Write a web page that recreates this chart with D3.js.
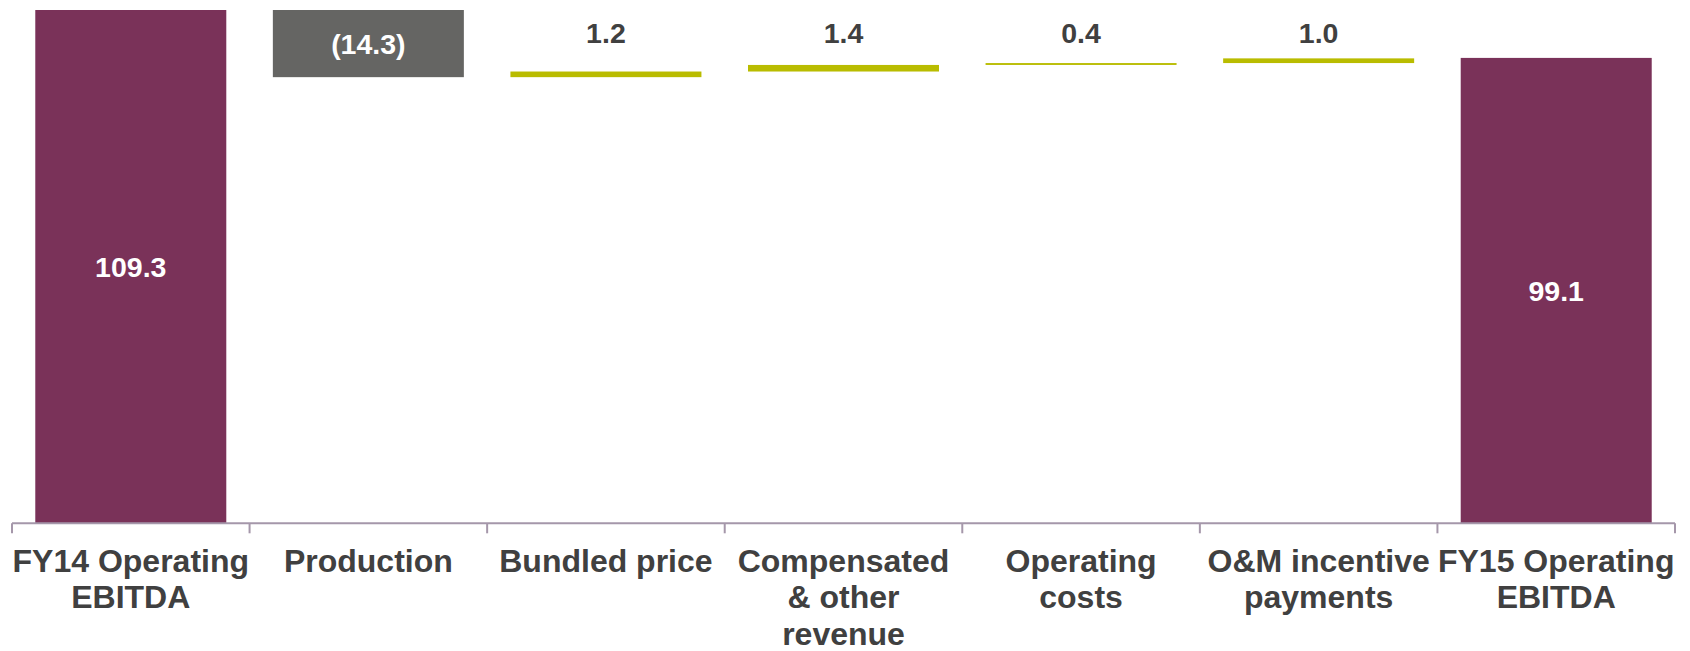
<!DOCTYPE html>
<html>
<head>
<meta charset="utf-8">
<script src="https://cdn.jsdelivr.net/npm/d3@7/dist/d3.min.js"></script>
<style>
  html, body { margin: 0; padding: 0; background: #ffffff; }
  svg { display: block; }
  text { font-family: "Liberation Sans", Arial, sans-serif; font-weight: bold; }
</style>
</head>
<body>
<svg id="chart" width="1690" height="651"></svg>
<script>
// ---- data ----
const categories = [
  ["FY14 Operating", "EBITDA"],
  ["Production"],
  ["Bundled price"],
  ["Compensated", "& other", "revenue"],
  ["Operating", "costs"],
  ["O&M incentive", "payments"],
  ["FY15 Operating", "EBITDA"]
];
const kinds = ["total", "delta", "delta", "delta", "delta", "delta", "total"];
const values = [109.3, -14.3, 1.2, 1.4, 0.4, 1.0, 99.1];
const valueLabels = ["109.3", "(14.3)", "1.2", "1.4", "0.4", "1.0", "99.1"];

// ---- layout ----
const svg = d3.select("#chart");
const axisY = 523.3, topY = 10, left = 12, right = 1675;

// build waterfall segments
let running = 0;
const segs = values.map((v, i) => {
  let y0, y1;
  if (kinds[i] === "total") { y0 = 0; y1 = v; running = v; }
  else { y0 = running; y1 = running + v; running = y1; }
  return { i, v, y0, y1, kind: kinds[i], neg: v < 0, label: valueLabels[i] };
});

const x = d3.scaleBand()
  .domain(d3.range(categories.length))
  .range([left, right])
  .paddingInner(0.196)
  .paddingOuter(0.098);

const y = d3.scaleLinear()
  .domain([0, d3.max(segs, d => Math.max(d.y0, d.y1))])
  .range([axisY, topY]);

const colorOf = d => d.kind === "total" ? "#7a3259" : (d.neg ? "#656563" : "#b9bc00");

// bars
svg.append("g").selectAll("rect").data(segs).join("rect")
  .attr("x", d => x(d.i))
  .attr("width", x.bandwidth())
  .attr("y", d => y(Math.max(d.y0, d.y1)))
  .attr("height", d => Math.abs(y(d.y0) - y(d.y1)))
  .attr("fill", colorOf);

// axis line + ticks at band boundaries
const step = x.step();
const bounds = d3.range(categories.length + 1).map(k => left + k * step);
const ax = svg.append("g");
ax.append("line")
  .attr("x1", left).attr("x2", right)
  .attr("y1", axisY).attr("y2", axisY)
  .attr("stroke", "#a597aa").attr("stroke-width", 2);
ax.selectAll("line.tick").data(bounds).join("line")
  .attr("class", "tick")
  .attr("x1", d => d).attr("x2", d => d)
  .attr("y1", axisY).attr("y2", axisY + 10)
  .attr("stroke", "#a597aa").attr("stroke-width", 2);

// category labels
const lab = svg.append("g").selectAll("text").data(categories).join("text")
  .attr("x", (d, i) => x(i) + x.bandwidth() / 2)
  .attr("y", 571.5)
  .attr("text-anchor", "middle")
  .attr("font-size", 32)
  .attr("fill", "#404040");
lab.selectAll("tspan").data(d => d).join("tspan")
  .attr("x", function () { return this.parentNode.getAttribute("x"); })
  .attr("dy", (d, j) => j === 0 ? 0 : 36.5)
  .text(d => d);

// value labels
const incTopLabelY = y(d3.max(segs, d => Math.max(d.y0, d.y1))) + 33;
svg.append("g").selectAll("text").data(segs).join("text")
  .attr("x", d => x(d.i) + x.bandwidth() / 2)
  .attr("y", d => {
    if (d.kind === "total" || d.neg) {
      return (y(d.y0) + y(d.y1)) / 2 + 10.5;
    }
    return incTopLabelY;
  })
  .attr("text-anchor", "middle")
  .attr("font-size", 28.5)
  .attr("fill", d => (d.kind === "total" || d.neg) ? "#ffffff" : "#404040")
  .text(d => d.label);
</script>
</body>
</html>
